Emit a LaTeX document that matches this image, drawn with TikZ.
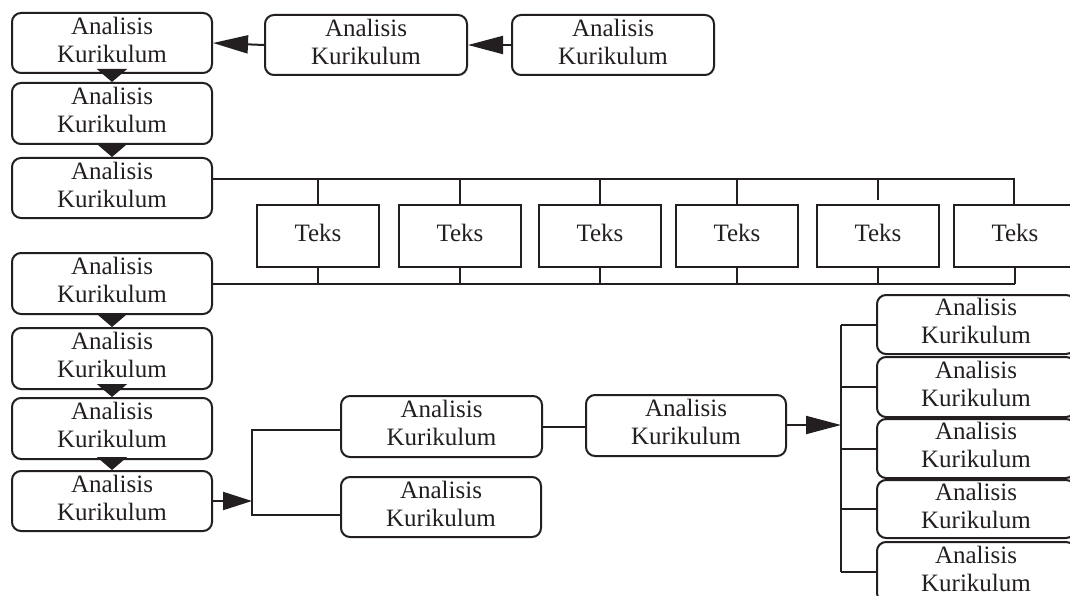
\documentclass[tikz,border=0pt]{standalone}
\usepackage{fontspec}
\setmainfont{Liberation Serif}
\usetikzlibrary{arrows.meta,calc}
\definecolor{ink}{RGB}{35,31,32}
\begin{document}
\begin{tikzpicture}[x=1pt,y=-1pt,
  box/.style={draw=ink, line width=2pt, rounded corners=9pt, minimum width=200pt,
    minimum height=60pt, inner sep=0pt, align=center, text=ink, text depth=7pt,
    font=\fontsize{25}{28}\selectfont},
  tbox/.style={draw=ink, line width=2pt, minimum width=122pt, minimum height=62pt,
    inner sep=0pt, text=ink, text depth=7pt, font=\fontsize{25}{28}\selectfont},
  conn/.style={draw=ink, line width=2pt},
  harr/.style={conn, -{Triangle[length=35pt,width=18pt]}},
  marr/.style={conn, -{Triangle[length=29pt,width=18pt]}},
  varr/.style={conn, -{Triangle[length=13pt,width=30pt]}},
]
\clip (0,0) rectangle (1070,596);
\fill[white] (0,0) rectangle (1070,596);
% left column
\node[box] (L1) at (112,43) {Analisis\\Kurikulum};
\node[box, minimum height=61pt] (L2) at (112,113.5) {Analisis\\Kurikulum};
\node[box] (L3) at (112,188) {Analisis\\Kurikulum};
\node[box, minimum height=61pt] (L4) at (112,283.5) {Analisis\\Kurikulum};
\node[box, minimum height=61pt] (L5) at (112,358.5) {Analisis\\Kurikulum};
\node[box, minimum height=61pt] (L6) at (112,428.5) {Analisis\\Kurikulum};
\node[box] (L7) at (112,501) {Analisis\\Kurikulum};
% top row
\node[box, minimum width=202pt] (T2) at (366,45) {Analisis\\Kurikulum};
\node[box, minimum width=202pt] (T3) at (613,45) {Analisis\\Kurikulum};
% Teks row
\node[tbox] (K1) at (318,236) {Teks};
\node[tbox] (K2) at (460,236) {Teks};
\node[tbox] (K3) at (600,236) {Teks};
\node[tbox] (K4) at (737,236) {Teks};
\node[tbox] (K5) at (878,236) {Teks};
\node[tbox] (K6) at (1015,236) {Teks};
% middle
\node[box, minimum width=201pt, minimum height=61pt] (M1) at (441.5,426.5) {Analisis\\Kurikulum};
\node[box] (M2) at (441,507) {Analisis\\Kurikulum};
\node[box, minimum height=61pt] (M3) at (686,425.5) {Analisis\\Kurikulum};
% right column
\node[box, minimum width=198pt, minimum height=59pt] (R1) at (976,324.5) {Analisis\\Kurikulum};
\node[box, minimum width=198pt] (R2) at (976,387) {Analisis\\Kurikulum};
\node[box, minimum width=198pt, minimum height=59pt] (R3) at (976,448.5) {Analisis\\Kurikulum};
\node[box, minimum width=198pt, minimum height=58pt] (R4) at (976,509) {Analisis\\Kurikulum};
\node[box, minimum width=198pt] (R5) at (976,572) {Analisis\\Kurikulum};
% top arrows
\draw[harr] (T3.west) -- (T2.east);
\draw[harr] (T2.west) -- (L1.east);
% vertical arrows
\draw[varr] (L1.south) -- (L2.north);
\draw[varr] (L2.south) -- (L3.north);
\draw[varr] (L4.south) -- (L5.north);
\draw[varr] (L5.south) -- (L6.north);
\draw[varr] (L6.south) -- (L7.north);
% upper bus
\coordinate (bt) at (1014,179);
\draw[conn] (L3.east |- bt) -- (bt) -- (bt |- K6.north);
\foreach \k in {K1,K2,K3,K4}{
  \draw[conn] (\k.north) -- (\k.north |- bt);
}
\draw[conn] (K5.north |- bt) -- ++(0,21);
% lower bus
\draw[conn] (L4.east) -- (K6.south |- L4.east);
\foreach \k in {K1,K2,K3,K4,K5,K6}{
  \draw[conn] (\k.south) -- (\k.south |- L4.east);
}
% middle bracket
\coordinate (bk) at (252,501);
\coordinate (bk1) at (252,430);
\coordinate (bk2) at (252,515);
\draw[marr] (L7.east) -- (bk);
\draw[conn] (M1.west |- bk1) -- (bk1) -- (bk2) -- (M2.west |- bk2);
\draw[conn] (M1.east) -- (M1.east -| M3.west);
% right bracket
\coordinate (rk) at (841,425);
\draw[harr] (M3.east |- rk) -- (rk);
\draw[conn] (rk |- R1.west) -- (rk |- R5.west);
\foreach \r in {R1,R2,R3,R4,R5}{
  \draw[conn] (rk |- \r.west) -- (\r.west);
}
\end{tikzpicture}
\end{document}
